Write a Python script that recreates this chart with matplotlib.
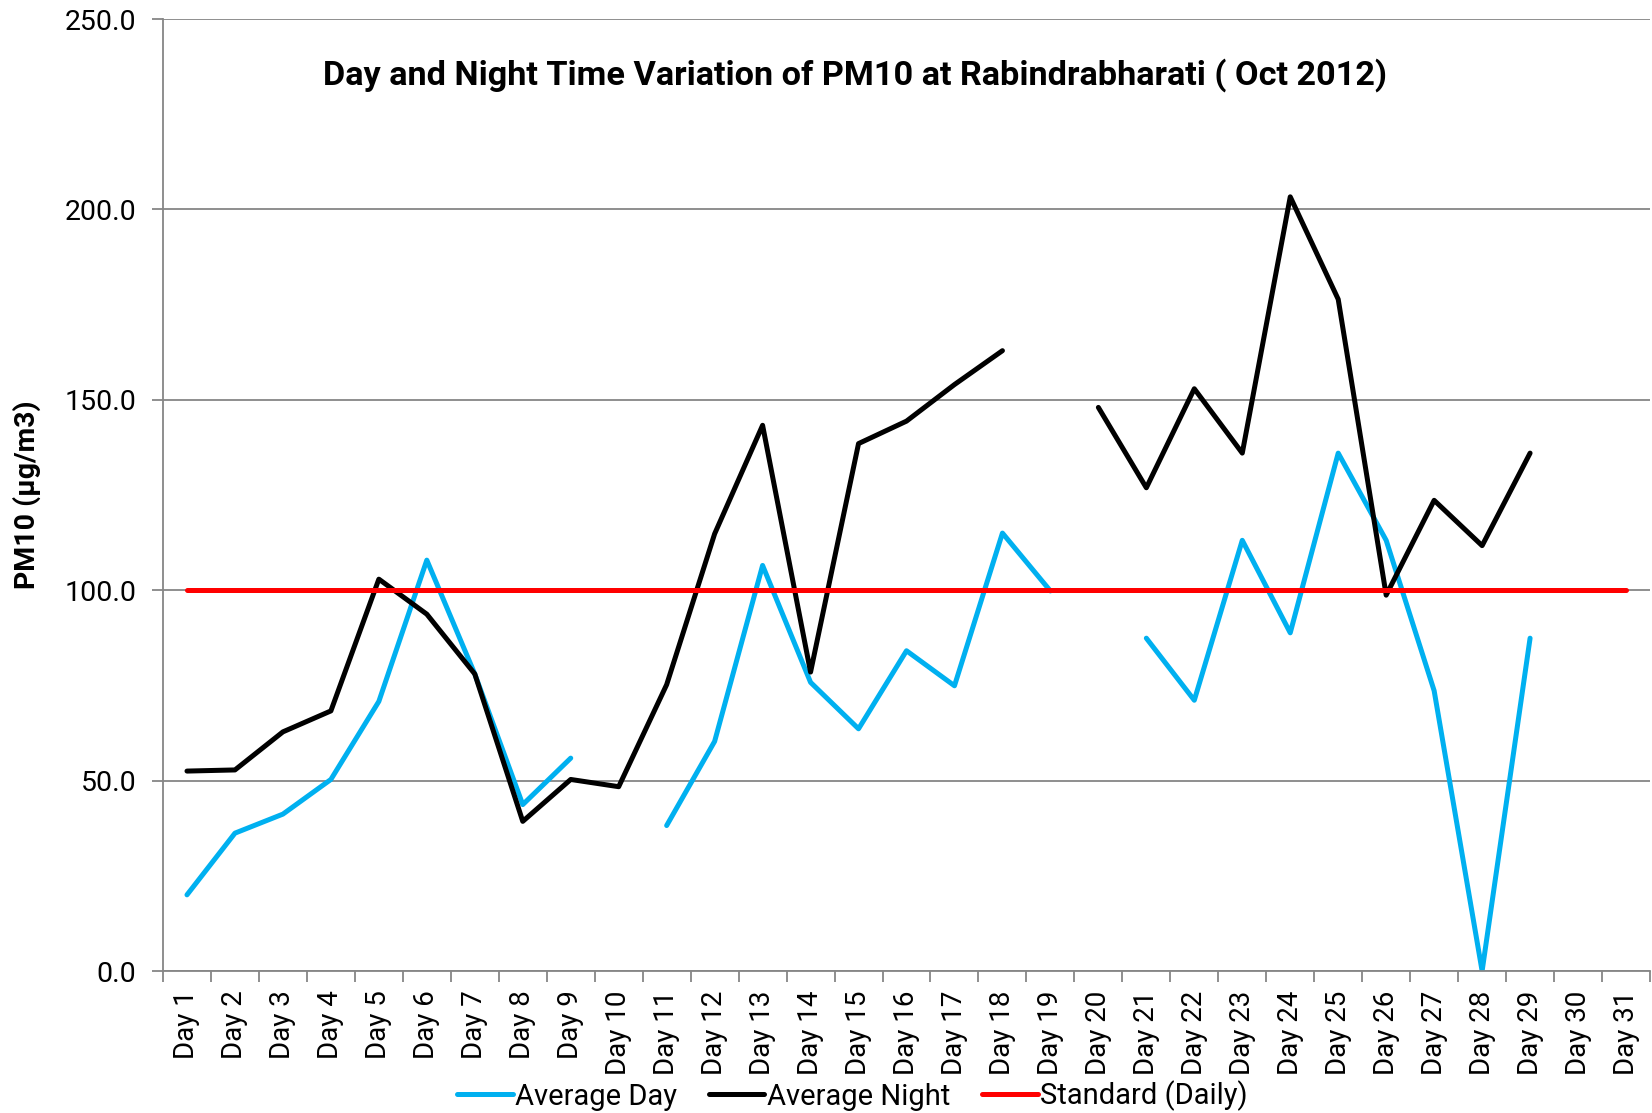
import numpy as np
import matplotlib
matplotlib.use("Agg")
import matplotlib.pyplot as plt

plt.rcParams['font.family'] = ['Roboto', 'DejaVu Sans']

days = [f"Day {i}" for i in range(1, 32)]
nan = np.nan
avg_day = [20.0, 36.2, 41.2, 50.3, 70.8, 107.9, 78.0, 43.7, 55.9, nan,
           38.2, 60.3, 106.5, 75.8, 63.6, 84.1, 74.9, 115.0, 99.8, nan,
           87.4, 71.1, 113.1, 88.8, 136.0, 113.1, 73.6, 0.0, 87.4, nan, nan]
avg_night = [52.5, 52.8, 62.8, 68.3, 102.9, 93.7, 78.0, 39.3, 50.3, 48.4,
             75.2, 114.8, 143.3, 78.5, 138.5, 144.4, 154.0, 162.9, nan, 148.0,
             126.9, 152.9, 136.0, 203.3, 176.4, 98.7, 123.6, 111.7, 136.0, nan, nan]
standard = [100.0] * 31
yticks = [0, 50, 100, 150, 200, 250]

fig = plt.figure(figsize=(16.52, 11.13), dpi=100)
ax = fig.add_axes([163/1652, 142/1113, (1650-163)/1652, (971-19)/1113])

x = np.arange(len(days))
ax.plot(x, avg_day, color='#00B0F0', lw=3.6, label='Average Day', solid_capstyle='round', solid_joinstyle='round')
ax.plot(x, avg_night, color='black', lw=3.6, label='Average Night', solid_capstyle='round', solid_joinstyle='round')
ax.plot(x, standard, color='#FF0000', lw=3.6, label='Standard (Daily)', solid_capstyle='round')

ax.set_xlim(-0.5, len(days) - 0.5)
ax.set_ylim(0, 250)
ax.set_yticks(yticks)
ax.set_yticklabels([f"{v:.1f}" for v in yticks], fontsize=20.5)
ax.grid(axis='y', color='#868686', lw=1.3)
ax.set_axisbelow(True)

ax.set_xticks(x)
ax.set_xticklabels(days, rotation=90, fontsize=20)
ax.set_xticks(np.arange(-0.5, len(days)), minor=True)
ax.tick_params(axis='x', which='major', length=0, pad=14)
ax.tick_params(axis='x', which='minor', length=8, color='#868686', width=1.3)
ax.tick_params(axis='y', length=8, color='#868686', width=1.3, pad=11)

for s in ['top', 'right']:
    ax.spines[s].set_visible(False)
for s in ['left', 'bottom']:
    ax.spines[s].set_color('#868686')
    ax.spines[s].set_linewidth(1.3)

ax.set_ylabel('PM10 (µg/m3)', fontsize=20.5, fontweight='bold', labelpad=17)
ax.text(0.4655, 0.941, 'Day and Night Time Variation of PM10 at Rabindrabharati ( Oct 2012)',
        transform=ax.transAxes, ha='center', va='center', fontsize=24.7, fontweight='bold')

fig.legend(loc='center', bbox_to_anchor=(0.516, 1 - 1096/1113), ncol=3, frameon=False,
           fontsize=21, handlelength=1.9, handletextpad=0.08, columnspacing=1.1)

fig.savefig('out.png', dpi=100)
